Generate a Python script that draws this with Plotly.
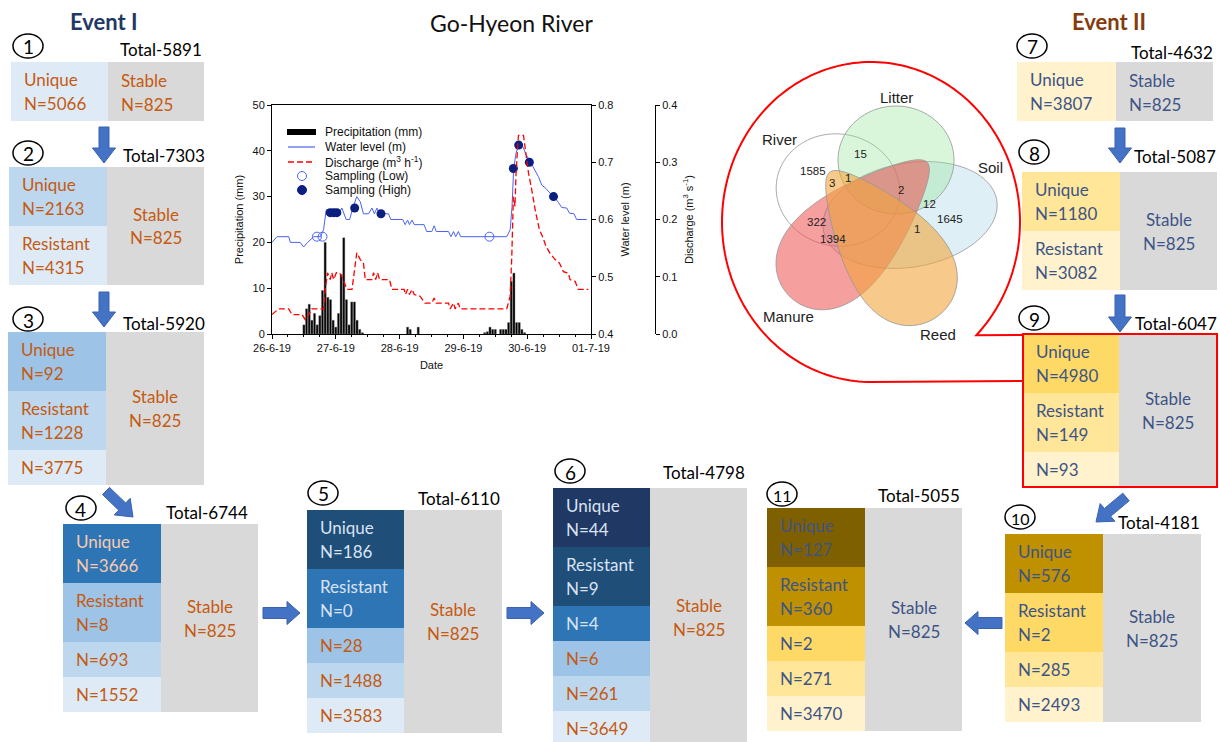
import math
import plotly.graph_objects as go

W, H = 1220, 742

# ---------------- hydrograph data (hours from 26-6-19 00:00) ----------------
date_tick_hours = [0, 24, 48, 72, 96, 120]
date_tick_labels = ["26-6-19", "27-6-19", "28-6-19", "29-6-19", "30-6-19", "01-7-19"]

precip_hour = [12, 13, 14, 15, 16, 17, 18, 19, 20, 21, 22, 23, 24, 25, 26, 27, 28, 29, 30, 31, 32, 33, 34,
               51, 52, 55,
               80, 81, 82, 83, 84, 86, 87, 88, 89, 90, 91, 92, 93, 94, 95]
precip_mm = [2.0, 5.5, 6.5, 3.0, 4.5, 2.0, 4.0, 9.5, 20.0, 8.0, 7.5, 3.0, 1.5, 4.5, 13.0, 21.0, 7.5, 2.0, 7.0, 7.0, 3.0, 1.0, 0.3,
             1.5, 1.0, 1.5,
             0.3, 0.5, 1.5, 1.0, 1.0, 1.0, 1.0, 1.0, 2.5, 11.5, 13.3, 2.5, 2.5, 1.0, 0.3]

wl_hour = [0.0, 1.9, 6.3, 6.9, 10.6, 11.9, 13.4, 15.7, 18.2, 19.4,
           20.4, 21.9, 23.8, 25.1, 26.3, 27.9, 29.2, 30.4, 31.9, 33.2,
           34.4, 36.3, 37.6, 38.5, 39.5, 40.5, 43.8, 44.7, 49.2, 50.1,
           51.0, 51.7, 52.7, 53.5, 57.2, 58.2, 60.1, 61.0, 61.8, 66.4,
           67.3, 68.3, 69.1, 70.1, 71.0, 88.3, 89.6, 90.3, 90.9, 91.8,
           92.8, 94.3, 95.6, 96.8, 98.3, 100.2, 101.5, 103.1, 104.6, 106.2,
           107.7, 109.0, 110.9, 111.9, 113.6, 114.6, 118.4]
wl_m = [0.560, 0.570, 0.570, 0.560, 0.560, 0.552, 0.560, 0.570, 0.570, 0.582,
        0.617, 0.617, 0.617, 0.610, 0.620, 0.600, 0.600, 0.620, 0.640, 0.631,
        0.610, 0.610, 0.620, 0.610, 0.620, 0.610, 0.610, 0.600, 0.600, 0.591,
        0.599, 0.591, 0.599, 0.591, 0.591, 0.579, 0.579, 0.589, 0.579, 0.579,
        0.570, 0.579, 0.570, 0.579, 0.570, 0.570, 0.582, 0.623, 0.689, 0.716,
        0.730, 0.728, 0.713, 0.704, 0.692, 0.675, 0.660, 0.654, 0.646, 0.639,
        0.630, 0.621, 0.620, 0.611, 0.610, 0.600, 0.600]

q_hour = [0.0, 2.5, 6.3, 7.5, 11.3, 12.5, 13.8, 15.0, 19.4, 20.0,
          20.9, 21.9, 22.5, 23.2, 24.2, 25.4, 26.3, 28.2, 30.1, 30.9,
          31.9, 33.2, 34.4, 35.1, 37.6, 38.2, 39.0, 39.7, 40.5, 44.2,
          45.1, 49.7, 50.2, 51.0, 51.7, 52.7, 53.5, 55.7, 57.5, 60.1,
          61.0, 61.8, 66.4, 67.0, 68.3, 68.9, 70.1, 70.8, 88.3, 89.6,
          90.2, 90.8, 91.4, 91.8, 92.7, 94.6, 95.6, 96.5, 97.7, 99.0,
          100.6, 101.8, 103.1, 104.6, 106.5, 108.1, 109.6, 111.5, 112.1, 114.0,
          115.2, 119.0]
q_val = [0.034, 0.044, 0.044, 0.034, 0.034, 0.025, 0.034, 0.044, 0.044, 0.077,
         0.107, 0.095, 0.107, 0.095, 0.107, 0.107, 0.100, 0.078, 0.078, 0.109,
         0.142, 0.130, 0.124, 0.095, 0.095, 0.107, 0.095, 0.107, 0.095, 0.095,
         0.078, 0.078, 0.069, 0.078, 0.069, 0.078, 0.069, 0.066, 0.054, 0.054,
         0.063, 0.054, 0.054, 0.044, 0.054, 0.044, 0.054, 0.044, 0.044, 0.066,
         0.135, 0.240, 0.223, 0.281, 0.347, 0.347, 0.310, 0.281, 0.252, 0.217,
         0.182, 0.170, 0.153, 0.141, 0.130, 0.124, 0.109, 0.106, 0.095, 0.092,
         0.078, 0.078]

low_hour = [16.9, 19.0, 81.8]
low_wl = [0.570, 0.570, 0.570]
high_hour = [21.9, 23.2, 24.4, 31.1, 41.0, 90.8, 92.8, 96.8, 105.9]
high_wl = [0.612, 0.612, 0.612, 0.620, 0.610, 0.689, 0.730, 0.700, 0.640]

legend_labels = ["Precipitation (mm)", "Water level (m)", "Discharge (m<sup>3</sup> h<sup>-1</sup>)",
                 "Sampling (Low)", "Sampling (High)"]

# ---------------- box (flow) data ----------------
box_numbers = ["1", "2", "3", "4", "5", "6", "7", "8", "9", "10", "11"]
box_totals = [5891, 7303, 5920, 6744, 6110, 4798, 4632, 5087, 6047, 4181, 5055]
box_unique = [5066, 2163, 92, 3666, 186, 44, 3807, 1180, 4980, 576, 127]
box_resistant = [None, 4315, 1228, 8, 0, 9, None, 3082, 149, 2, 360]
box_other = [[], [], [3775], [693, 1552], [28, 1488, 3583], [4, 6, 261, 3649],
             [], [], [93], [285, 2493], [2, 271, 3470]]
stable_n = 825

# ---------------- Venn data ----------------
venn_sets = ["River", "Litter", "Soil", "Manure", "Reed"]
venn_counts = [1585, 15, 3, 1, 2, 12, 1645, 1, 322, 1394]

# =====================================================================
def X(px):
    return px / W


def Y(py):
    return 1 - py / H


shapes = []
annotations = []

BOX_FONT = "Lato, Open Sans, sans-serif"
ARIAL = "Liberation Sans, Arial, sans-serif"


def rect(x0, y0, x1, y1, fill, line_color=None, lw=0):
    shapes.append(dict(type="rect", xref="paper", yref="paper",
                       x0=X(x0), x1=X(x1), y0=Y(y1), y1=Y(y0),
                       fillcolor=fill, line=dict(width=lw, color=line_color or fill),
                       layer="above"))


def txt(x, y, s, size=17, color="black", family=BOX_FONT, xanchor="left"):
    annotations.append(dict(x=X(x), y=Y(y), xref="paper", yref="paper", text=s,
                            showarrow=False, xanchor=xanchor, yanchor="middle",
                            font=dict(family=family, size=size, color=color)))


def path_from(pts, close=True):
    s = "M " + " L ".join(f"{X(px):.5f},{Y(py):.5f}" for px, py in pts)
    return s + (" Z" if close else "")


def block_arrow(xa, ya, xb, yb, shaft=10, head=23, hl=15):
    dx, dy = xb - xa, yb - ya
    L = math.hypot(dx, dy)
    ux, uy = dx / L, dy / L
    nx, ny = -uy, ux
    bx, by = xa + ux * (L - hl), ya + uy * (L - hl)
    pts = [(xa + nx * shaft / 2, ya + ny * shaft / 2),
           (bx + nx * shaft / 2, by + ny * shaft / 2),
           (bx + nx * head / 2, by + ny * head / 2),
           (xb, yb),
           (bx - nx * head / 2, by - ny * head / 2),
           (bx - nx * shaft / 2, by - ny * shaft / 2),
           (xa - nx * shaft / 2, ya - ny * shaft / 2)]
    shapes.append(dict(type="path", xref="paper", yref="paper", path=path_from(pts),
                       fillcolor="#4472C4", line=dict(color="#3A62AD", width=1), layer="above"))


def egg(cx, cy, a, b, ang_deg, k=0.0, n=120):
    th = math.radians(ang_deg)
    pts = []
    for i in range(n):
        t = 2 * math.pi * i / n
        u = a * math.cos(t)
        v = b * math.sin(t) * (1 + k * math.cos(t))
        pts.append((cx + u * math.cos(th) - v * math.sin(th),
                    cy + u * math.sin(th) + v * math.cos(th)))
    return pts


def circled(cx, cy, s):
    shapes.append(dict(type="circle", xref="paper", yref="paper",
                       x0=X(cx - 15), x1=X(cx + 15), y0=Y(cy + 12), y1=Y(cy - 12),
                       line=dict(color="black", width=1.5), fillcolor="rgba(0,0,0,0)", layer="above"))
    txt(cx, cy + 1, s, size=19 if len(s) == 1 else 16, xanchor="center")


# ---------------- box layout ----------------
box_geom = [(11, 108, 204, 62), (9, 107, 204, 167), (8, 106, 204, 332),
            (63, 161, 258, 524), (307, 404, 502, 510), (553, 650, 747, 488),
            (1017, 1116, 1213, 62), (1022, 1120, 1217, 172), (1023, 1119, 1217, 334),
            (1005, 1103, 1201, 534), (767, 865, 962, 508)]
circ_pos = [(28, 46), (28, 153), (28, 319), (81, 508), (323, 493), (570, 471),
            (1032, 46), (1034, 152), (1034, 318), (1020, 517), (782, 494)]
total_pos = [(204, 50), (207, 155), (207, 323), (250, 512), (502, 498), (747, 473),
             (1215, 52), (1218, 157), (1219, 323), (1202, 522), (962, 495)]
blue_cols = {1: ["#DEEBF7"], 2: ["#BDD7EE", "#DEEBF7"], 3: ["#9DC3E6", "#BDD7EE", "#DEEBF7"],
             4: ["#2E75B6", "#9DC3E6", "#BDD7EE", "#DEEBF7"],
             5: ["#1F4E79", "#2E75B6", "#9DC3E6", "#BDD7EE", "#DEEBF7"],
             6: ["#203864", "#1F4E79", "#2E75B6", "#9DC3E6", "#BDD7EE", "#DEEBF7"]}
gold_cols = {1: ["#FFF2CC"], 2: ["#FFE699", "#FFF2CC"], 3: ["#FFD966", "#FFE699", "#FFF2CC"],
             4: ["#BF9000", "#FFD966", "#FFE699", "#FFF2CC"],
             5: ["#7F6000", "#BF9000", "#FFD966", "#FFE699", "#FFF2CC"]}
ORANGE = "#C55A11"
SLATE = "#3E5485"

for i in range(len(box_numbers)):
    x0, xm, x1, y0 = box_geom[i]
    event1 = i < 6
    cells = [("Unique", box_unique[i])]
    if box_resistant[i] is not None:
        cells.append(("Resistant", box_resistant[i]))
    cells += [("", v) for v in box_other[i]]
    cols = (blue_cols if event1 else gold_cols)[len(cells)]
    y = y0
    for j, (lab, n) in enumerate(cells):
        h = 59 if lab else 35
        fill = cols[j]
        rect(x0, y, xm, y + h, fill)
        if event1:
            if fill == "#2E75B6" and i == 3:
                tc = "#F8CBAD"
            elif fill in ("#2E75B6", "#1F4E79", "#203864"):
                tc = "#DAE3F3"
            else:
                tc = ORANGE
        else:
            tc = SLATE
        if lab:
            txt(x0 + 11, y + h / 2 - 12, lab, color=tc)
            txt(x0 + 11, y + h / 2 + 12, f"N={n}", color=tc)
        else:
            txt(x0 + 11, y + h / 2, f"N={n}", color=tc)
        y += h
    y1 = min(y, 742)
    rect(xm, y0, x1, y1, "#D9D9D9")
    sc = ORANGE if event1 else SLATE
    if len(cells) == 1:
        txt(xm + 11, y0 + 30 - 12, "Stable", color=sc)
        txt(xm + 11, y0 + 30 + 12, f"N={stable_n}", color=sc)
    else:
        cy = (y0 + y) / 2
        txt((xm + x1) / 2, cy - 12, "Stable", color=sc, xanchor="center")
        txt((xm + x1) / 2, cy + 12, f"N={stable_n}", color=sc, xanchor="center")
    circled(*circ_pos[i], box_numbers[i])
    tx, ty = total_pos[i]
    txt(tx, ty, f"Total-{box_totals[i]}", size=17, xanchor="right")

# red border on box 9
rect(1023, 334, 1217, 487, "rgba(0,0,0,0)", line_color="#FF0000", lw=2)

# arrows
block_arrow(104, 127, 104, 163)
block_arrow(104, 292, 104, 327)
block_arrow(106, 491, 133, 517)
block_arrow(263, 613, 300, 613, shaft=11, head=23, hl=13)
block_arrow(507, 613, 544, 613, shaft=11, head=23, hl=13)
block_arrow(1120, 128, 1120, 163)
block_arrow(1120, 295, 1120, 332)
block_arrow(1126, 497, 1096, 522)
block_arrow(1002, 623, 965, 623, shaft=11, head=23, hl=13)

# titles
txt(104, 22, "<b>Event I</b>", size=22, color="#1F3864", xanchor="center")
txt(1109, 22, "<b>Event II</b>", size=22, color="#843C0C", xanchor="center")
txt(511, 23, "Go-Hyeon River", size=23, color="#111111", xanchor="center")

# ---------------- callout bubble + Venn ----------------
ecx, ecy, erx, ery = 871, 222, 149, 160
t0 = math.radians(45)
t1 = math.radians(90 - 360)
arc = [(1023, 335)]
N = 200
for k in range(N + 1):
    t = t0 + (t1 - t0) * k / N
    arc.append((ecx + erx * math.cos(t), ecy + ery * math.sin(t)))
arc.append((1023, 381))
shapes.append(dict(type="path", xref="paper", yref="paper", path=path_from(arc, close=False),
                   line=dict(color="#FF0000", width=2), fillcolor="rgba(0,0,0,0)", layer="above"))

venn_shapes = [
    (egg(910, 215, 88, 52, -10), "rgba(173,216,230,0.40)"),        # Soil
    (egg(838, 190, 62, 56, 10), "rgba(255,255,255,0)"),            # River
    (egg(896, 160, 58, 54, 0), "rgba(150,230,150,0.35)"),          # Litter
    (egg(858, 229, 96, 46, -44, -0.45), "rgba(236,80,80,0.55)"),   # Manure
    (egg(884, 244, 90, 46, 53, 0.45), "rgba(242,165,60,0.60)"),    # Reed
]
for pts, fc in venn_shapes:
    shapes.append(dict(type="path", xref="paper", yref="paper", path=path_from(pts),
                       fillcolor=fc, line=dict(color="rgba(150,150,150,0.8)", width=1), layer="above"))

venn_label_pos = [(779, 140), (896, 98), (990, 168), (789, 316), (938, 334)]
for s, (px, py) in zip(venn_sets, venn_label_pos):
    txt(px, py, s, size=15, color="#222222", family=ARIAL, xanchor="center")
venn_count_pos = [(813, 171), (860, 154), (832, 183), (848, 178), (901, 190),
                  (929, 204), (950, 219), (917, 229), (816, 222), (833, 239)]
for v, (px, py) in zip(venn_counts, venn_count_pos):
    txt(px, py, str(v), size=11.5, color="#222222", family=ARIAL, xanchor="center")

# ---------------- manual legend for the hydrograph ----------------
leg_rows = [132, 147, 162, 176, 190]
rect(287, leg_rows[0] - 3, 316, leg_rows[0] + 3, "black")
shapes.append(dict(type="line", xref="paper", yref="paper", x0=X(288), x1=X(315), y0=Y(leg_rows[1]),
                   y1=Y(leg_rows[1]), line=dict(color="#4C63F2", width=1.2), layer="above"))
shapes.append(dict(type="line", xref="paper", yref="paper", x0=X(288), x1=X(315), y0=Y(leg_rows[2]),
                   y1=Y(leg_rows[2]), line=dict(color="#FF0000", width=1.3, dash="6px,3px"), layer="above"))
shapes.append(dict(type="circle", xref="paper", yref="paper", x0=X(297.5), x1=X(306.5),
                   y0=Y(leg_rows[3] + 4.5), y1=Y(leg_rows[3] - 4.5),
                   line=dict(color="#4C63F2", width=1), fillcolor="white", layer="above"))
shapes.append(dict(type="circle", xref="paper", yref="paper", x0=X(297.5), x1=X(306.5),
                   y0=Y(leg_rows[4] + 4.5), y1=Y(leg_rows[4] - 4.5),
                   line=dict(color="#0B1F80", width=1), fillcolor="#0B1F80", layer="above"))
for lab, ry in zip(legend_labels, leg_rows):
    txt(323, ry, lab, size=12, color="#111111", family=ARIAL)

# ---------------- hydrograph traces ----------------
fig = go.Figure()
fig.add_trace(go.Bar(x=precip_hour, y=precip_mm, name=legend_labels[0], width=0.8,
                     marker=dict(color="black", line=dict(color="#777777", width=0.4))))
fig.add_trace(go.Scatter(x=wl_hour, y=wl_m, name=legend_labels[1], mode="lines",
                         line=dict(color="#4C63F2", width=1), yaxis="y2"))
fig.add_trace(go.Scatter(x=q_hour, y=q_val, name=legend_labels[2], mode="lines",
                         line=dict(color="#FF0000", width=1.3, dash="6px,3px"), yaxis="y3"))
fig.add_trace(go.Scatter(x=low_hour, y=low_wl, name=legend_labels[3], mode="markers",
                         marker=dict(symbol="circle-open", color="#4C63F2", size=9, line=dict(width=1)),
                         yaxis="y2"))
fig.add_trace(go.Scatter(x=high_hour, y=high_wl, name=legend_labels[4], mode="markers",
                         marker=dict(symbol="circle", color="#0B1F80", size=9), yaxis="y2"))

af = dict(family=ARIAL, size=11, color="#111111")
common_y = dict(ticks="outside", ticklen=4, tickcolor="black", showline=True, linecolor="black",
                linewidth=1, showgrid=False, zeroline=False, tickfont=af)

fig.update_layout(
    width=W, height=H, autosize=False,
    margin=dict(l=0, r=0, t=0, b=0, pad=0, autoexpand=False),
    paper_bgcolor="white", plot_bgcolor="white",
    showlegend=False,
    xaxis=dict(domain=[X(272), X(591)], range=[0, 120], tickmode="array", tickvals=date_tick_hours,
               ticktext=date_tick_labels, ticks="outside", ticklen=4, tickcolor="black",
               minor=dict(tick0=0, dtick=6, ticks="outside", ticklen=2, tickcolor="black"),
               showline=True, linecolor="black", linewidth=1, mirror=True, showgrid=False,
               zeroline=False, tickfont=af, automargin=False,
               title=dict(text="Date", font=af, standoff=8)),
    yaxis=dict(domain=[Y(334), Y(105)], range=[0, 50], dtick=10, automargin=False,
               title=dict(text="Precipitation (mm)", font=af, standoff=6), **common_y),
    yaxis2=dict(overlaying="y", side="right", anchor="x", range=[0.4, 0.8], dtick=0.1, tickformat=".1f",
                automargin=False, title=dict(text="Water level (m)", font=af, standoff=8), **common_y),
    yaxis3=dict(overlaying="y", side="right", anchor="free", position=X(655), range=[0, 0.4],
                dtick=0.1, tickformat=".1f", automargin=False,
                title=dict(text="Discharge (m<sup>3</sup> s<sup>-1</sup>)", font=af, standoff=8), **common_y),
    shapes=shapes,
    annotations=annotations,
)

fig.write_html("out.html")
